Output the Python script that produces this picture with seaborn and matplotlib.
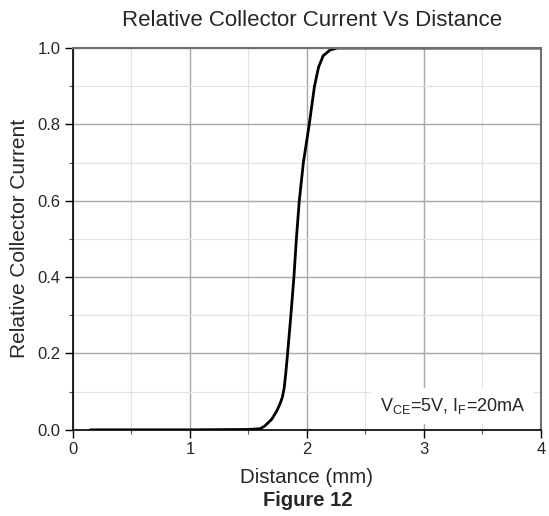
import matplotlib
matplotlib.use("Agg")
import matplotlib.pyplot as plt
import seaborn as sns
import pandas as pd
from matplotlib.ticker import MultipleLocator

# values
distance_mm = [0.15, 0.5, 1.0, 1.5, 1.6, 1.64, 1.7, 1.74, 1.77, 1.79, 1.806, 1.82,
               1.835, 1.863, 1.889, 1.91, 1.935, 1.97, 2.02, 2.065, 2.10, 2.14,
               2.2, 2.26, 2.5, 3.0, 3.5, 4.0]
rel_current = [0.0, 0.0, 0.0, 0.001, 0.003, 0.01, 0.028, 0.048, 0.068, 0.085, 0.11, 0.15,
               0.2, 0.3, 0.4, 0.5, 0.6, 0.7, 0.8, 0.9, 0.95, 0.98,
               0.995, 1.0, 1.0, 1.0, 1.0, 1.0]

x_ticks = [0, 1, 2, 3, 4]
y_ticks = [0.0, 0.2, 0.4, 0.6, 0.8, 1.0]

df = pd.DataFrame({"Distance": distance_mm, "Current": rel_current})

sns.set_style("white")
plt.rcParams["font.family"] = ["Liberation Sans", "DejaVu Sans"]
plt.rcParams["mathtext.fontset"] = "custom"
plt.rcParams["mathtext.rm"] = "Liberation Sans"

fig = plt.figure(figsize=(5.49, 5.16), dpi=100)
ax = fig.add_axes([0.133, 0.167, 0.852, 0.740])

sns.lineplot(data=df, x="Distance", y="Current", color="black", linewidth=2.0, ax=ax)

ax.set_xlim(0, 4)
ax.set_ylim(0, 1.0)
ax.set_xticks(x_ticks)
ax.set_yticks(y_ticks)
ax.set_xticklabels([str(t) for t in x_ticks])
ax.set_yticklabels([f"{t:.1f}" for t in y_ticks])
ax.xaxis.set_minor_locator(MultipleLocator(0.5))
ax.yaxis.set_minor_locator(MultipleLocator(0.1))

ax.grid(True, which="major", color="#a8a8a8", linewidth=1.0)
ax.grid(True, which="minor", color="#e2e2e2", linewidth=0.8)
ax.set_axisbelow(True)

ax.tick_params(which="major", direction="out", length=6, width=1.0, labelsize=12,
               color="black", bottom=True, left=True, pad=3)
ax.tick_params(which="minor", direction="out", length=3, width=0.8,
               color="#555555", bottom=True, left=True)

for side in ["left", "bottom"]:
    ax.spines[side].set_color("black")
    ax.spines[side].set_linewidth(1.2)
for side in ["top", "right"]:
    ax.spines[side].set_visible(True)
    ax.spines[side].set_color("#707070")
    ax.spines[side].set_linewidth(1.5)

ax.set_title("Relative Collector Current Vs Distance", fontsize=16, pad=16, x=0.51)
ax.set_ylabel("Relative Collector Current", fontsize=15, labelpad=6)
ax.set_xlabel("Distance (mm)", fontsize=14.8, labelpad=8)

ax.text(0.967, 0.062, r"V$_{\rm CE}$=5V, I$_{\rm F}$=20mA", transform=ax.transAxes,
        ha="right", va="center", fontsize=13,
        bbox=dict(facecolor="white", edgecolor="none", pad=6))

fig.text(0.56, 0.031, "Figure 12", ha="center", va="center", fontsize=14.5,
         fontweight="bold")

fig.savefig("out.png", dpi=100)
